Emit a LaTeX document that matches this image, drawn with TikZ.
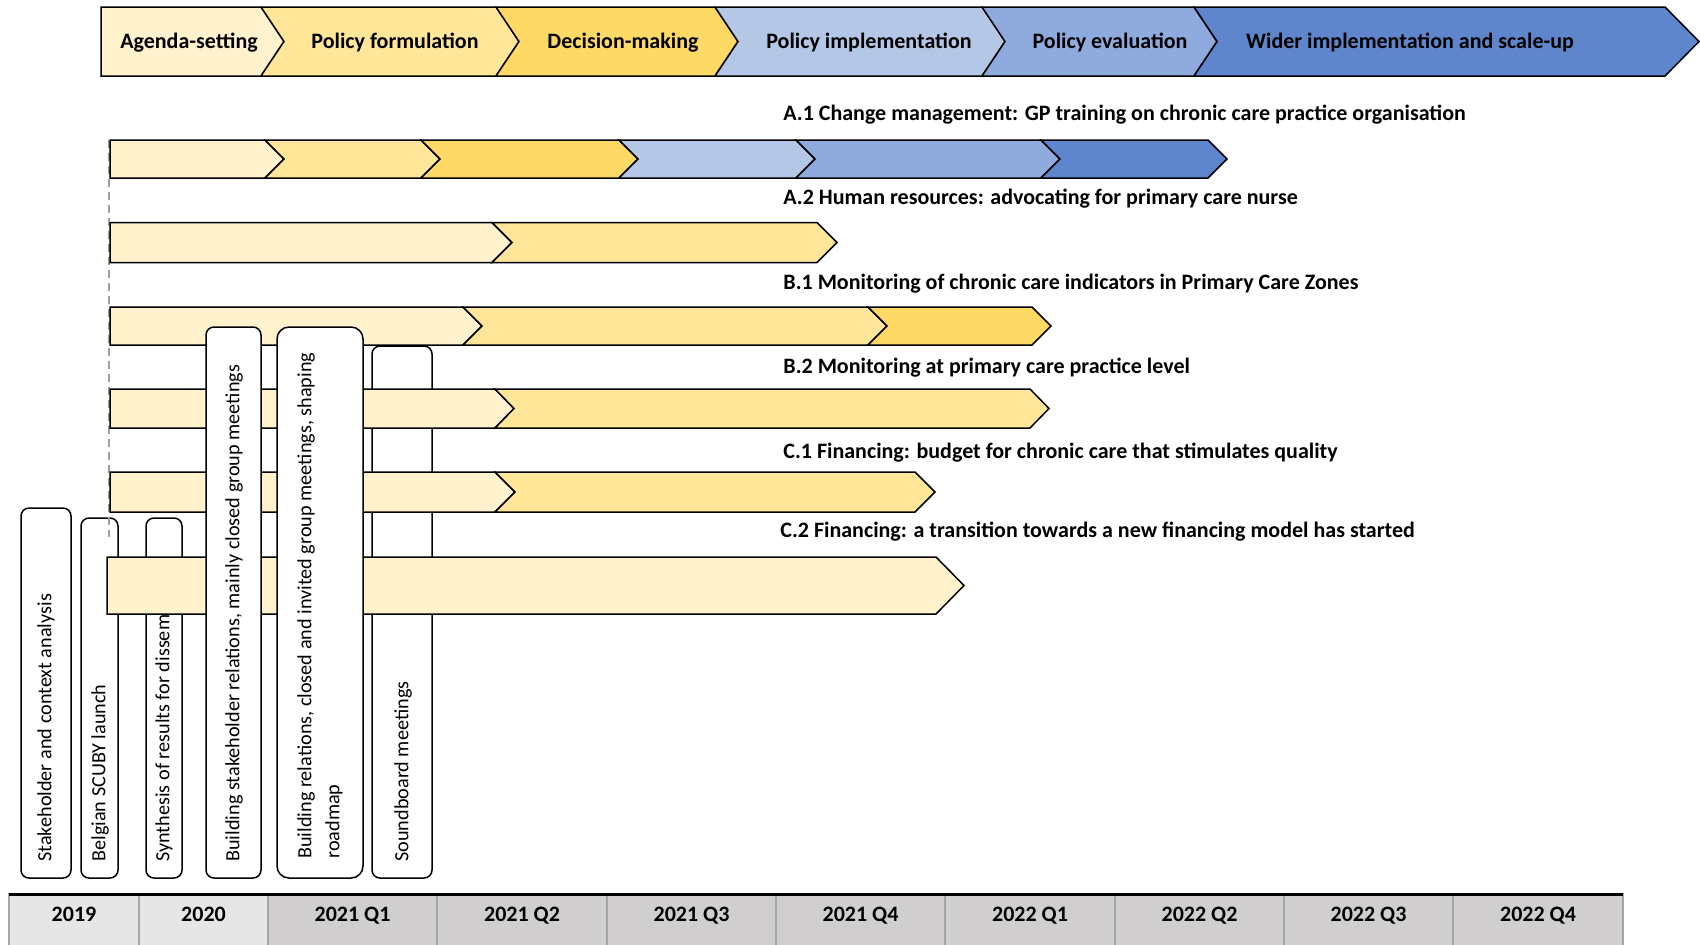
\documentclass[tikz,border=0pt]{standalone}
\usepackage{fontspec}
\setmainfont{Carlito}
\usepackage{tikz}
\usetikzlibrary{positioning,calc}
\definecolor{goldA}{HTML}{FFF2CC}
\definecolor{goldB}{HTML}{FFE699}
\definecolor{goldC}{HTML}{FFD966}
\definecolor{blueA}{HTML}{B4C7E7}
\definecolor{blueB}{HTML}{8FAADC}
\definecolor{blueC}{HTML}{5F86CD}
\definecolor{yearA}{HTML}{E7E6E6}
\definecolor{yearB}{HTML}{D0CECE}
\tikzset{
  seg/.style={draw=black, line width=0.75pt, line join=miter},
  vbox/.style={draw=black, fill=white, rounded corners=4pt, line width=0.75pt},
  vtext/.style={rotate=90, anchor=west, inner sep=0pt, align=left, font=\fontsize{10.1}{14}\selectfont}
}
% one chevron piece: fill, x left, x right, y centre, half height, tip depth, notch depth
\newcommand{\chevseg}[7]{%
  \filldraw[fill=#1, seg] ({#2},{#4-#5}) -- ({#3},{#4-#5}) -- ({#3+#6},{#4}) -- ({#3},{#4+#5})
    -- ({#2},{#4+#5}) -- ({#2+#7},{#4}) -- cycle;}

\begin{document}
\begin{tikzpicture}[
  x=0.5pt, y=-0.5pt,
  phase/.style={font=\fontsize{11}{13}\selectfont\bfseries, inner sep=1pt, text height=8pt, text depth=2.5pt},
  track/.style={font=\fontsize{11}{13}\selectfont\bfseries, anchor=west, inner sep=0pt},
  year/.style={font=\fontsize{11}{13}\selectfont\bfseries, inner sep=1pt, text height=8pt, text depth=2.5pt},
  guide/.style={draw=gray!75, line width=0.75pt, dash pattern=on 4pt off 2.5pt}
]
\useasboundingbox (0,0) rectangle (1700,944);

% Policy cycle (top row)
\chevseg{goldA}{101}{261}{41.5}{34.5}{23}{0}
\chevseg{goldB}{261}{496}{41.5}{34.5}{23}{23}
\chevseg{goldC}{496}{715}{41.5}{34.5}{23}{23}
\chevseg{blueA}{715}{982}{41.5}{34.5}{23}{23}
\chevseg{blueB}{982}{1194}{41.5}{34.5}{23}{23}
\chevseg{blueC}{1194}{1665}{41.5}{34.5}{34}{23}
\node[phase] (agenda) at (189,43) {Agenda-setting};
\node[phase] (formul) at (395,43) {Policy formulation};
\node[phase] (decide) at (623,43) {Decision-making};
\node[phase] (implem) at (869,43) {Policy implementation};
\node[phase] (evalua) at (1110,43) {Policy evaluation};
\node[phase] (scaleup) at (1410,43) {Wider implementation and scale-up};

% Activities kept behind the tracks
\draw[vbox] (81,518) rectangle (118,878);
\draw[vbox] (146,518) rectangle (182,878);
\draw[vbox] (372,346) rectangle (432,878);
\node[vtext] (launch) at (100,862) {Belgian SCUBY launch};
\node[vtext] (synth) at (164,862) {Synthesis of results for dissem};
\node[vtext] (sound) at (403,862) {Soundboard meetings};

% Start of the tracks
\draw[guide] (109,140) -- (109,537);

% Tracks A.1 - C.2
\chevseg{goldA}{110}{265}{159}{19}{19}{0}
\chevseg{goldB}{265}{421}{159}{19}{19}{19}
\chevseg{goldC}{421}{619}{159}{19}{19}{19}
\chevseg{blueA}{619}{796}{159}{19}{19}{19}
\chevseg{blueB}{796}{1041}{159}{19}{19}{19}
\chevseg{blueC}{1041}{1208}{159}{19}{19}{19}

\chevseg{goldA}{110}{492}{242.5}{20}{20}{0}
\chevseg{goldB}{492}{817}{242.5}{20}{20}{20}

\chevseg{goldA}{110}{463}{326}{19}{19}{0}
\chevseg{goldB}{463}{868}{326}{19}{19}{19}
\chevseg{goldC}{868}{1032}{326}{19}{19}{19}

\chevseg{goldA}{110}{495}{408.5}{19.5}{19}{0}
\chevseg{goldB}{495}{1030}{408.5}{19.5}{19}{19}

\chevseg{goldA}{110}{495}{492}{20}{20}{0}
\chevseg{goldB}{495}{915}{492}{20}{20}{20}

\chevseg{goldA}{107}{936}{585.5}{28.5}{28}{0}

\node[track] (trA1) at (783,115) {A.1 Change management: GP training on chronic care practice organisation};
\node[track] (trA2) at (783,199) {A.2 Human resources: advocating for primary care nurse};
\node[track] (trB1) at (783,284) {B.1 Monitoring of chronic care indicators in Primary Care Zones};
\node[track] (trB2) at (783,368) {B.2 Monitoring at primary care practice level};
\node[track] (trC1) at (783,453) {C.1 Financing: budget for chronic care that stimulates quality};
\node[track] (trC2) at (780,532) {C.2 Financing: a transition towards a new financing model has started};

% Activities in front of the tracks
\draw[vbox] (21,508) rectangle (71,878);
\draw[vbox] (206,327) rectangle (261,878);
\draw[vbox, rounded corners=6pt] (277,327) rectangle (363,878);
\node[vtext] (stake) at (46,862) {Stakeholder and context analysis};
\node[vtext] (build) at (234,862) {Building stakeholder relations, mainly closed group meetings};
\node[vtext] (relat) at (320,859) {Building relations, closed and invited group meetings, shaping\\roadmap};

% Timeline
\foreach \xa/\xb/\yr/\col in {9/139/2019/yearA, 139/268/2020/yearA, 268/437/2021 Q1/yearB,
  437/607/2021 Q2/yearB, 607/776/2021 Q3/yearB, 776/945/2021 Q4/yearB, 945/1115/2022 Q1/yearB,
  1115/1284/2022 Q2/yearB, 1284/1453/2022 Q3/yearB, 1453/1623/2022 Q4/yearB}{
  \filldraw[fill=\col, draw=gray!70, line width=0.6pt] (\xa,894) rectangle (\xb,960);
  \node[year] (y\xa) at ({(\xa+\xb)/2},916) {\yr};
}
\draw[line width=1.5pt] (9,894) -- (1623,894);

\end{tikzpicture}
\end{document}
